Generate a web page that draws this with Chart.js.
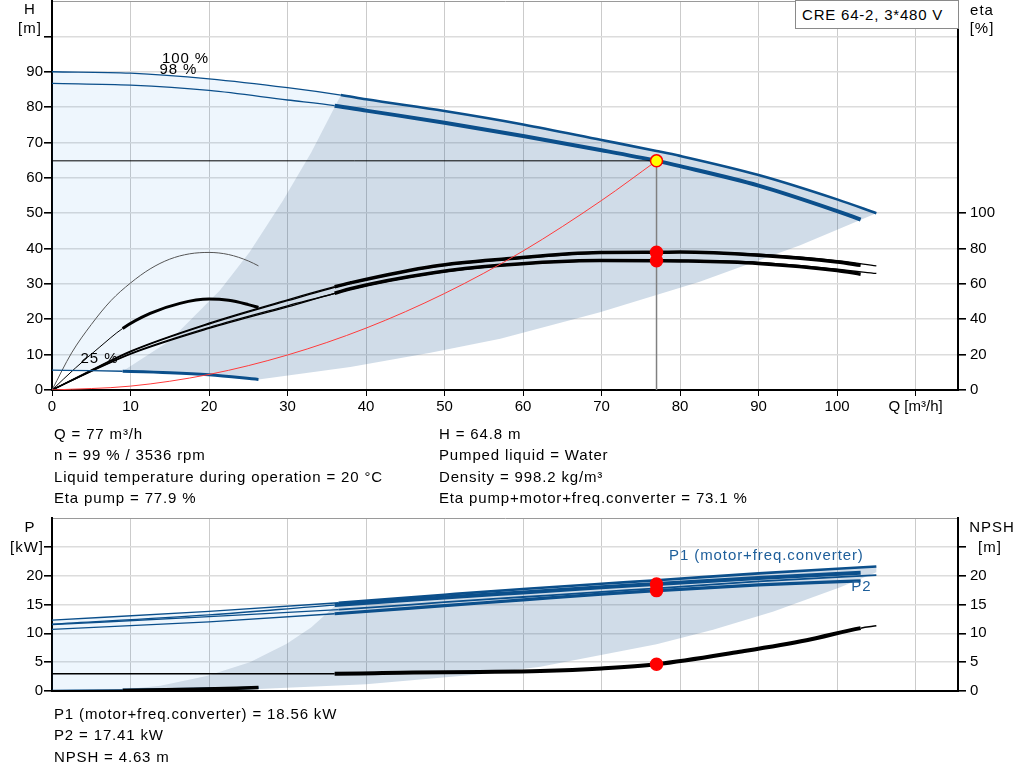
<!DOCTYPE html>
<html>
<head>
<meta charset="utf-8">
<script src="https://cdn.jsdelivr.net/npm/chart.js@4.4.1/dist/chart.umd.min.js"></script>
<style>
  body { margin: 0; background: #fff; font-family: "Liberation Sans", Arial, sans-serif; font-size: 15px; color: #000; }
  #wrap { position: relative; width: 1024px; height: 781px; overflow: hidden; }
  canvas { position: absolute; left: 0; }
  .t { position: absolute; white-space: nowrap; line-height: 21.3px; letter-spacing: 0.85px; }
  .ax { position: absolute; width: 60px; text-align: center; line-height: 18px; white-space: nowrap; letter-spacing: 1px; }
  #box { position: absolute; left: 795px; top: 0; width: 164px; height: 29px; border: 1px solid #8a8a8a; background: #fff; box-sizing: border-box; line-height: 27px; padding-left: 6px; letter-spacing: 0.8px; }
</style>
</head>
<body>
<div id="wrap">
  <canvas id="top" width="1024" height="420" style="top:0"></canvas>
  <canvas id="bottom" width="1024" height="200" style="top:505px"></canvas>

  <div id="box">CRE 64-2, 3*480 V</div>

  <div class="ax" style="left:0;top:0">H</div>
  <div class="ax" style="left:0;top:19px">[m]</div>
  <div class="ax" style="left:952px;top:1px">eta</div>
  <div class="ax" style="left:952px;top:19px">[%]</div>

  <div class="ax" style="left:0;top:518px">P</div>
  <div class="ax" style="left:-3px;top:538px">[kW]</div>
  <div class="ax" style="left:962px;top:518px">NPSH</div>
  <div class="ax" style="left:960px;top:538px">[m]</div>

  <div class="t" style="left:54px;top:423px">
    Q = 77 m³/h<br>
    n = 99 % / 3536 rpm<br>
    Liquid temperature during operation = 20 °C<br>
    Eta pump = 77.9 %
  </div>
  <div class="t" style="left:439px;top:423px">
    H = 64.8 m<br>
    Pumped liquid = Water<br>
    Density = 998.2 kg/m³<br>
    Eta pump+motor+freq.converter = 73.1 %
  </div>
  <div class="t" style="left:54px;top:703px">
    P1 (motor+freq.converter) = 18.56 kW<br>
    P2 = 17.41 kW<br>
    NPSH = 4.63 m
  </div>
</div>

<script>
// ---- values (Q in m3/h) ----
const xTicks = [0, 10, 20, 30, 40, 50, 60, 70, 80, 90, 100, 110];
const xTickLabels = ['0', '10', '20', '30', '40', '50', '60', '70', '80', '90', '100', 'Q [m³/h]'];
const hTicks = [0, 10, 20, 30, 40, 50, 60, 70, 80, 90, 100, 110];
const hTickLabels = ['0', '10', '20', '30', '40', '50', '60', '70', '80', '90', '', ''];
const etaTicks = [0, 20, 40, 60, 80, 100, 120, 140, 160, 180, 200, 220];
const etaTickLabels = ['0', '20', '40', '60', '80', '100', '', '', '', '', '', ''];
const pTicks = [0, 5, 10, 15, 20, 25, 30];
const pTickLabels = ['0', '5', '10', '15', '20', '', ''];

// head curves
const qH100 = [0, 10, 20, 30, 36.8, 40, 50, 60, 70, 77, 80, 90, 100, 105];
const hH100 = [90, 89.6, 88, 85.5, 83.4, 82.2, 78.9, 75.1, 70.7, 67.6, 66.2, 60.8, 53.9, 50];
const qH98 = [0, 10, 20, 30, 36, 40, 50, 60, 70, 77, 80, 90, 100, 103];
const hH98 = [86.7, 86.2, 84.7, 82, 80.4, 79, 75.6, 71.8, 67.8, 64.8, 63.3, 57.8, 50.6, 48.2];
const qH25 = [0, 5, 9, 15, 20, 26.3];
const hH25 = [5.6, 5.5, 5.3, 4.9, 4.3, 3.0];

// efficiency curves (eta %)
const qEtaP100 = [0, 5, 10, 20, 30, 38, 48.6, 57.9, 69.8, 77, 80, 90, 100, 105];
const vEtaP100 = [0, 11, 21.6, 37.3, 50.5, 60.3, 69.7, 73.8, 77.6, 78.2, 78.3, 76.8, 73.2, 70.2];
const qEtaP98 = [0, 5, 10, 20, 30, 36, 38, 48.6, 57.9, 69.8, 77, 80, 90, 100, 103];
const vEtaP98 = [0, 11.2, 22, 37.8, 51, 58.4, 60.6, 70, 74.2, 77.8, 77.9, 78, 76.2, 72.4, 70.5];
const qEtaT100 = [0, 5, 10, 20, 30, 38, 48.6, 57.1, 69.8, 77, 80, 90, 100, 105];
const vEtaT100 = [0, 10.5, 20.3, 34.8, 47, 56.9, 65.9, 70.2, 73.2, 73.5, 73.4, 72.2, 68.3, 65.9];
const qEtaT98 = [0, 5, 10, 20, 30, 36, 38, 48.6, 57.1, 69.8, 77, 80, 90, 100, 103];
const vEtaT98 = [0, 10.7, 20.6, 35.3, 47.6, 54.7, 57.3, 66.3, 70.5, 73.2, 73.1, 73, 71.6, 67.6, 65.5];
const qEtaP25 = [0, 2.5, 5, 7.5, 10, 12.5, 15, 17.5, 20, 22.5, 25, 26.3];
const vEtaP25 = [0, 21, 37, 50.5, 60.5, 68.5, 74, 77, 77.8, 76.6, 73, 70.2];
const qEtaT25 = [0, 3, 6, 9, 12.5, 16.3, 20, 22.5, 25, 26.3];
const vEtaT25 = [0, 12.5, 24, 34.8, 43.3, 49, 51.4, 50.7, 48.3, 46.7];

// operating area borders (head chart)
const qEdgeL = [36.8, 33, 29.4, 25.2, 21.4, 15, 9];
const hEdgeL = [83.4, 67.1, 53.5, 39.1, 28.2, 13.9, 5.3];
const qEdgeB = [26.3, 38, 48.2, 57.1, 69.8, 82.5, 95.3, 105];
const hEdgeB = [3.0, 6.5, 10.5, 14.5, 22, 30.6, 40.9, 50];

// system curve and duty point
const qSys = [0, 10, 20, 30, 40, 50, 60, 70, 77];
const hSys = [0, 1.1, 4.4, 9.9, 17.5, 27.3, 39.3, 53.6, 64.8];
const dutyQ = 77;
const dutyH = 64.8;
const dutyEta = [77.9, 73.1];
const dutyP = [18.56, 17.41];
const dutyNpsh = 4.63;

// power curves (kW)
const qP1_100 = [0, 20, 36.5, 50, 60, 70, 77, 90, 105];
const vP1_100 = [12.3, 13.8, 15.3, 16.7, 17.7, 18.6, 19.2, 20.4, 21.6];
const qP1_98 = [0, 20, 36, 50, 60, 70, 77, 90, 103];
const vP1_98 = [11.6, 13.2, 14.9, 16.2, 17.1, 18.0, 18.56, 19.6, 20.5];
const qP2_100 = [0, 20, 36.5, 50, 60, 70, 77, 90, 105];
const vP2_100 = [11.5, 12.9, 14.1, 15.4, 16.3, 17.2, 17.8, 19.0, 20.1];
const qP2_98 = [0, 20, 36, 50, 60, 70, 77, 90, 103];
const vP2_98 = [10.7, 12.0, 13.4, 14.8, 15.8, 16.8, 17.41, 18.4, 19.1];
const qP25 = [0, 9, 18, 26.3];
const vP25 = [0.12, 0.2, 0.33, 0.55];

// NPSH curves (m)
const qNpsh = [0, 10, 20, 36, 46, 54.5, 62.2, 70, 77, 87.6, 96.1, 103, 105];
const vNpsh = [3.0, 3.0, 3.0, 3.0, 3.2, 3.3, 3.45, 3.9, 4.63, 6.8, 8.8, 10.9, 11.3];
const qNpsh25 = [0, 9, 18, 26.3];
const vNpsh25 = [0.05, 0.1, 0.3, 0.6];

// operating area borders (power chart)
const qEdgeLP = [36.5, 33, 29.9, 25.2, 19.7, 13.8, 9];
const vEdgeLP = [15.3, 11.0, 8.2, 5.0, 2.6, 0.9, 0.25];
const qEdgeBP = [26.3, 40, 54.5, 62.2, 77, 84.2, 91.9, 100.4, 105];
const vEdgeBP = [0.35, 1.15, 2.9, 4.2, 8.1, 10.6, 13.8, 18.0, 20.6];

// ---- helpers ----
const BLUE = '#0b4f8b';
const FONT = '"Liberation Sans", Arial, sans-serif';
Chart.defaults.font.family = FONT;
Chart.defaults.font.size = 15;
Chart.defaults.color = '#000';

function pts(qs, vs) {
  return qs.map((q, i) => ({ x: q, y: vs[i] }));
}

function area(data, color) {
  return { data: data, showLine: true, borderWidth: 0, pointRadius: 0, tension: 0,
           fill: 'shape', backgroundColor: color, order: 100 };
}

// thick between qa and qb, thin elsewhere
function curve(data, color, thin, thick, qa, qb, extra) {
  const ds = { data: data, showLine: true, borderColor: color, borderWidth: thin, pointRadius: 0,
               fill: false, cubicInterpolationMode: 'monotone', order: 50 };
  if (thick) {
    ds.segment = {
      borderWidth: c => (c.p0.parsed.x >= qa - 1e-6 && c.p1.parsed.x <= qb + 1e-6) ? thick : thin
    };
  }
  return Object.assign(ds, extra || {});
}

function dots(data, axis, fillColor) {
  return { data: data, yAxisID: axis, showLine: false, pointRadius: 6, pointBackgroundColor: fillColor,
           pointBorderColor: '#ff0000', pointBorderWidth: 1.5, order: 1 };
}

function fixedTicks(values) {
  return s => { s.ticks = values.map(v => ({ value: v })); };
}

function labelPlugin(items) {
  return {
    id: 'curveLabels',
    afterDatasetsDraw(chart) {
      const ctx = chart.ctx;
      ctx.save();
      ctx.font = '15px ' + FONT;
      ctx.letterSpacing = '0.9px';
      ctx.textAlign = 'center';
      ctx.textBaseline = 'middle';
      items.forEach(l => {
        ctx.fillStyle = l.color;
        ctx.fillText(l.text, chart.scales.x.getPixelForValue(l.q), chart.scales[l.axis].getPixelForValue(l.v));
      });
      ctx.restore();
    }
  };
}

function xScale(max, showLabels, height) {
  return {
    type: 'linear', min: 0, max: max,
    afterBuildTicks: fixedTicks(xTicks),
    ticks: { display: showLabels, callback: (v, i) => xTickLabels[i], autoSkip: false, maxRotation: 0, padding: 2 },
    grid: { color: '#cbcbcb', lineWidth: 1, tickLength: 6, tickColor: '#000', drawTicks: showLabels },
    border: { color: '#000', width: 2 },
    afterFit: s => { s.height = height; s.paddingLeft = 0; s.paddingRight = 0; }
  };
}

function yScale(pos, max, ticks, labels, drawGrid) {
  const lastLabelled = ticks[labels.filter(t => t !== '').length - 1];
  return {
    type: 'linear', position: pos, min: 0, max: max,
    afterBuildTicks: fixedTicks(ticks),
    ticks: { callback: (v, i) => labels[i], autoSkip: false, padding: pos === 'left' ? 1 : 4 },
    grid: {
      drawOnChartArea: drawGrid,
      color: c => c.tick && c.tick.value === max ? '#9a9a9a' : '#dcdcdc',
      lineWidth: c => c.tick && c.tick.value === max ? 1 : 1.6,
      tickLength: 8,
      tickColor: c => c.tick && c.tick.value < max && (pos === 'left' || c.tick.value <= Math.max(lastLabelled, 25)) ? '#000' : 'rgba(0,0,0,0)'
    },
    border: { color: '#000', width: 2 },
    afterFit: s => { s.width = pos === 'left' ? 52 : 66; s.paddingTop = 0; s.paddingBottom = 0; }
  };
}

// ---- head / efficiency chart ----
const H100 = pts(qH100, hH100);
const H25 = pts(qH25, hH25);
const edgeL = pts(qEdgeL, hEdgeL);
const edgeB = pts(qEdgeB, hEdgeB);
const qTopCorner = qEdgeL[0];
const qLowCorner = qEdgeL[qEdgeL.length - 1];

const lightTop = [].concat(
  H100.filter(p => p.x <= qTopCorner),
  edgeL.slice(1),
  H25.filter(p => p.x <= qLowCorner).reverse()
);
const darkTop = [].concat(
  edgeL.slice().reverse(),
  H100.filter(p => p.x > qTopCorner),
  edgeB.slice().reverse(),
  H25.filter(p => p.x > qLowCorner && p.x < qEdgeB[0]).reverse()
);

const topXMax = 115.4;

new Chart(document.getElementById('top'), {
  type: 'scatter',
  data: {
    datasets: [
      area(lightTop, 'rgba(12,126,226,0.07)'),
      area(darkTop, 'rgba(20,80,140,0.2)'),
      curve(pts(qSys, hSys), '#ff3b3b', 1, 0, 0, 0, { order: 40 }),
      curve([{ x: 0, y: dutyH }, { x: dutyQ, y: dutyH }], '#000', 1, 0, 0, 0, { order: 40 }),
      curve([{ x: dutyQ, y: 0 }, { x: dutyQ, y: dutyH }], '#808080', 1.5, 0, 0, 0, { order: 40 }),
      curve(H25, BLUE, 1.3, 3, 9, 26.3),
      curve(H100, BLUE, 1.3, 2.6, 36.8, 105),
      curve(pts(qH98, hH98), BLUE, 1.3, 4, 36, 103),
      curve(pts(qEtaP25, vEtaP25), '#555', 1, 0, 0, 0, { yAxisID: 'yEta' }),
      curve(pts(qEtaT25, vEtaT25), '#000', 1, 3, 9, 26.3, { yAxisID: 'yEta' }),
      curve(pts(qEtaP100, vEtaP100), '#000', 1.3, 0, 0, 0, { yAxisID: 'yEta' }),
      curve(pts(qEtaP98, vEtaP98), '#000', 1.3, 3.5, 36, 103, { yAxisID: 'yEta' }),
      curve(pts(qEtaT100, vEtaT100), '#000', 1.3, 0, 0, 0, { yAxisID: 'yEta' }),
      curve(pts(qEtaT98, vEtaT98), '#000', 1.3, 3.5, 36, 103, { yAxisID: 'yEta' }),
      dots(dutyEta.map(v => ({ x: dutyQ, y: v })), 'yEta', '#ff0000'),
      dots([{ x: dutyQ, y: dutyH }], 'y', '#ffff00')
    ]
  },
  options: {
    responsive: false,
    animation: false,
    events: [],
    layout: { autoPadding: false, padding: { top: 1, left: 0, right: 0, bottom: 0 } },
    plugins: { legend: { display: false }, tooltip: { enabled: false } },
    scales: {
      x: xScale(topXMax, true, 30),
      y: yScale('left', 110, hTicks, hTickLabels, true),
      yEta: yScale('right', 220, etaTicks, etaTickLabels, false)
    }
  },
  plugins: [labelPlugin([
    { text: '100 %', q: 17.0, v: 93.6, axis: 'y', color: '#000' },
    { text: '98 %', q: 16.1, v: 90.5, axis: 'y', color: '#000' },
    { text: '25 %', q: 6.05, v: 8.7, axis: 'y', color: '#000' }
  ])]
});

// ---- power / NPSH chart ----
const P1_100 = pts(qP1_100, vP1_100);
const P25 = pts(qP25, vP25);
const edgeLP = pts(qEdgeLP, vEdgeLP);
const edgeBP = pts(qEdgeBP, vEdgeBP);
const qTopCornerP = qEdgeLP[0];
const qLowCornerP = qEdgeLP[qEdgeLP.length - 1];

const lightLow = [].concat(
  P1_100.filter(p => p.x <= qTopCornerP),
  edgeLP.slice(1),
  P25.filter(p => p.x <= qLowCornerP).reverse()
);
const darkLow = [].concat(
  edgeLP.slice().reverse(),
  P1_100.filter(p => p.x > qTopCornerP),
  edgeBP.slice().reverse(),
  P25.filter(p => p.x > qLowCornerP && p.x < qEdgeBP[0]).reverse()
);

new Chart(document.getElementById('bottom'), {
  type: 'scatter',
  data: {
    datasets: [
      area(lightLow, 'rgba(12,126,226,0.07)'),
      area(darkLow, 'rgba(20,80,140,0.2)'),
      curve(pts(qNpsh25, vNpsh25), '#000', 1.3, 3.5, 9, 26.3, { yAxisID: 'yN' }),
      curve(P25, BLUE, 1.3, 2.5, 9, 26.3),
      curve(pts(qNpsh, vNpsh), '#000', 1.5, 4, 36, 103, { yAxisID: 'yN' }),
      curve(pts(qP2_100, vP2_100), BLUE, 1.3, 1.8, 36.5, 105),
      curve(pts(qP2_98, vP2_98), BLUE, 1.3, 3.2, 36, 103),
      curve(P1_100, BLUE, 1.3, 2.6, 36.5, 105),
      curve(pts(qP1_98, vP1_98), BLUE, 1.3, 4, 36, 103),
      dots(dutyP.map(v => ({ x: dutyQ, y: v })), 'y', '#ff0000'),
      dots([{ x: dutyQ, y: dutyNpsh }], 'yN', '#ff0000')
    ]
  },
  options: {
    responsive: false,
    animation: false,
    events: [],
    layout: { autoPadding: false, padding: { top: 13, left: 0, right: 0, bottom: 0 } },
    plugins: { legend: { display: false }, tooltip: { enabled: false } },
    scales: {
      x: xScale(topXMax, false, 14),
      y: yScale('left', 30, pTicks, pTickLabels, true),
      yN: yScale('right', 30, pTicks, pTickLabels, false)
    }
  },
  plugins: [labelPlugin([
    { text: 'P1 (motor+freq.converter)', q: 91.0, v: 23.4, axis: 'y', color: '#1d5e9a' },
    { text: 'P2', q: 103.1, v: 18.1, axis: 'y', color: '#1d5e9a' }
  ])]
});
</script>
</body>
</html>
